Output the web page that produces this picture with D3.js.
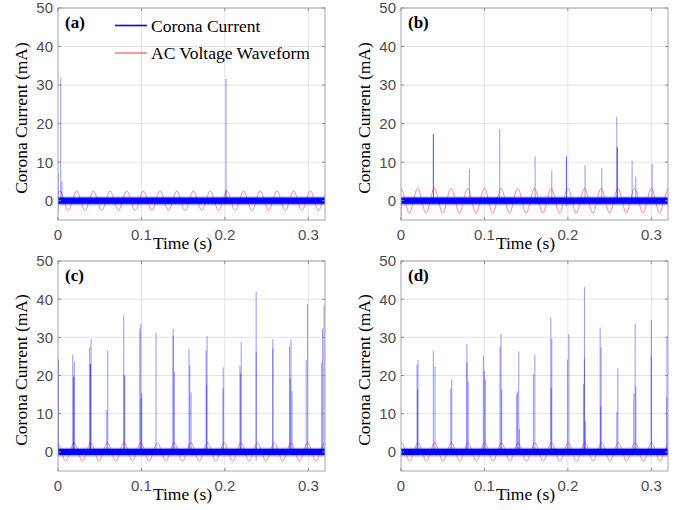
<!DOCTYPE html>
<html>
<head>
<meta charset="utf-8">
<script src="https://cdn.jsdelivr.net/npm/d3@7"></script>
<style>
  body { margin: 0; background: #fff; }
  svg { display: block; }
</style>
</head>
<body>
<script>
// tick labels and panel names
const panelLabels = ["(a)", "(b)", "(c)", "(d)"];
const xTicks = [0, 0.1, 0.2, 0.3];
const yTicks = [0, 10, 20, 30, 40, 50];

// AC voltage trace: knots every quarter period (peak, zero, trough, zero ...)
const acTimes = [0, 0.005, 0.01, 0.015, 0.02, 0.025, 0.03, 0.035, 0.04, 0.045,
  0.05, 0.055, 0.06, 0.065, 0.07, 0.075, 0.08, 0.085, 0.09, 0.095,
  0.1, 0.105, 0.11, 0.115, 0.12, 0.125, 0.13, 0.135, 0.14, 0.145,
  0.15, 0.155, 0.16, 0.165, 0.17, 0.175, 0.18, 0.185, 0.19, 0.195,
  0.2, 0.205, 0.21, 0.215, 0.22, 0.225, 0.23, 0.235, 0.24, 0.245,
  0.25, 0.255, 0.26, 0.265, 0.27, 0.275, 0.28, 0.285, 0.29, 0.295,
  0.3, 0.305, 0.31, 0.315, 0.32, 0.325];
const acKnotShape = [1, 0, -1, 0];
const acAmplitude = [2.5, 3.2, 2.4, 2.4];
const acShift = [0.0024, 0, -0.0008, 0.0004];

// baseline noise band of the corona current (mA)
const noiseBand = [-0.8, 0.8];
const noiseFuzz = [-1.2, 1.1];

// corona current pulses: [time (s), peak (mA)]
const spikesA = [[0.0003, 7], [0.0003, -2.8], [0.0032, 31.8], [0.0048, 5], [0.2014, 31.6], [0.2014, 3]];
const spikesB = [[0.0002, -4], [0.0388, 17.3], [0.0388, 17.3], [0.082, 8.3], [0.1183, 18.6],
  [0.1607, 11.5], [0.1807, 7.9], [0.1983, 11.5], [0.1983, 11.5], [0.1983, -1.5], [0.2206, 9.2],
  [0.2406, 8.5], [0.2586, 21.8], [0.2593, 13.8], [0.2593, 13.8], [0.277, 10.4], [0.2814, 6.3],
  [0.301, 9.6]];
const spikesC = [[0.0004, 24.3], [0.0004, 24.3],
  [0.0176, 25.4], [0.0196, 23.6], [0.0188, 19.7], [0.0188, 19.7],
  [0.038, 27.4], [0.0396, 29.6], [0.0388, 23], [0.0388, 23],
  [0.0584, 11], [0.0596, 26.5],
  [0.0788, 35.7], [0.08, 20], [0.0792, 20],
  [0.098, 32.3], [0.0992, 33.5], [0.1004, 15.4], [0.0995, 14],
  [0.1175, 31.3],
  [0.138, 32.2], [0.138, 30.3], [0.1396, 21],
  [0.157, 27.1], [0.1595, 15.6], [0.158, 22.8],
  [0.1775, 26.7], [0.1787, 30.3], [0.178, 17.6],
  [0.198, 22.2], [0.198, 16.7],
  [0.218, 22.5], [0.2196, 28.7], [0.2188, 20.6],
  [0.2375, 42.1], [0.2375, 26.3], [0.2375, -2.3],
  [0.2575, 29.5], [0.2575, 27],
  [0.2775, 27.6], [0.2792, 29.5], [0.2784, 19.3], [0.2804, 16],
  [0.2975, 24.1], [0.2991, 38.8],
  [0.316, 23.4], [0.3172, 32.2], [0.3188, 38.4]];
const spikesD = [[0.0192, 22.9], [0.0204, 24.1], [0.0198, 16.5],
  [0.0388, 26.5], [0.0408, 22.4],
  [0.0596, 16.7], [0.0608, 19],
  [0.079, 28.3], [0.079, 23.5], [0.0806, 18.4],
  [0.0987, 25.2], [0.0999, 21.3], [0.1011, 19],
  [0.1187, 27.6], [0.1199, 30.9], [0.1207, 16.5],
  [0.1387, 15.2], [0.1395, 15.8], [0.1411, 26.3], [0.1419, 6],
  [0.1587, 20.4], [0.1604, 25.4],
  [0.1795, 35.2], [0.1807, 29.6], [0.18, 16.7],
  [0.1995, 24.2], [0.2012, 30.9],
  [0.2187, 17.8], [0.2199, 43.2], [0.2199, 24.4], [0.2211, 8],
  [0.2387, 32.6], [0.2399, 27.4], [0.2393, 11.9],
  [0.2587, 10.6], [0.2599, 21.9],
  [0.279, 15.4], [0.2806, 33.5], [0.2814, 17.1],
  [0.3, 34.6], [0.3, 25.2],
  [0.3187, 30.2], [0.3187, 14.3]];
const spikeSets = [spikesA, spikesB, spikesC, spikesD];

const legendLabels = ["Corona Current", "AC Voltage Waveform"];
const legendColors = ["#0000ff", "#ff0000"];

// layout of the 4 panels
const panels = [
  {left: 58, top: 8, width: 267, height: 212},
  {left: 401, top: 8, width: 267, height: 212},
  {left: 58, top: 261, width: 267, height: 210},
  {left: 401, top: 261, width: 267, height: 210}
];

const svg = d3.select("body").append("svg")
    .attr("width", 681)
    .attr("height", 510);

const serif = "'Liberation Serif', 'Times New Roman', serif";
const sans = "'Liberation Sans', Arial, Helvetica, sans-serif";

panels.forEach(function(p, i) {
  const g = svg.append("g")
      .attr("transform", "translate(" + p.left + "," + p.top + ")");

  const x = d3.scaleLinear().domain([0, 0.32]).range([0, p.width]);
  const y = d3.scaleLinear().domain([-5, 50]).range([p.height, 0]);

  g.append("clipPath").attr("id", "clip" + i)
    .append("rect").attr("width", p.width).attr("height", p.height);

  // grid
  g.append("g").selectAll("line").data(xTicks.slice(1)).enter().append("line")
      .attr("x1", d => x(d)).attr("x2", d => x(d))
      .attr("y1", 0).attr("y2", p.height)
      .attr("stroke", "#e3e3e3").attr("stroke-width", 1);
  g.append("g").selectAll("line").data(yTicks).enter().append("line")
      .attr("x1", 0).attr("x2", p.width)
      .attr("y1", d => y(d)).attr("y2", d => y(d))
      .attr("stroke", "#e3e3e3").attr("stroke-width", 1);

  const plot = g.append("g").attr("clip-path", "url(#clip" + i + ")");

  // AC voltage waveform
  const acData = acTimes.map(function(t, k) {
    return {t: t + acShift[i] - 0.005, v: acAmplitude[i] * acKnotShape[(k + 3) % 4]};
  });
  const acLine = d3.line()
      .x(d => x(d.t))
      .y(d => y(d.v))
      .curve(d3.curveNatural);
  plot.append("path")
      .datum(acData)
      .attr("fill", "none")
      .attr("stroke", "#ff0000")
      .attr("stroke-opacity", 0.45)
      .attr("stroke-width", 1)
      .attr("d", acLine);

  // corona current: noise band
  plot.append("rect")
      .attr("x", 0).attr("width", p.width)
      .attr("y", y(noiseFuzz[1])).attr("height", y(noiseFuzz[0]) - y(noiseFuzz[1]))
      .attr("fill", "#0000ff").attr("fill-opacity", 0.35);
  plot.append("rect")
      .attr("x", 0).attr("width", p.width)
      .attr("y", y(noiseBand[1])).attr("height", y(noiseBand[0]) - y(noiseBand[1]))
      .attr("fill", "#0000ff");

  // corona current: pulses
  plot.append("g").selectAll("line").data(spikeSets[i]).enter().append("line")
      .attr("x1", d => x(d[0])).attr("x2", d => x(d[0]))
      .attr("y1", y(0)).attr("y2", d => y(d[1]))
      .attr("stroke", "#0000ff")
      .attr("stroke-opacity", 0.38)
      .attr("stroke-width", 1.1);

  // box
  g.append("rect")
      .attr("width", p.width).attr("height", p.height)
      .attr("fill", "none").attr("stroke", "#a6a6a6").attr("stroke-width", 1);

  // inside ticks on all four sides
  const tk = 3;
  xTicks.forEach(function(d) {
    g.append("line").attr("x1", x(d)).attr("x2", x(d)).attr("y1", p.height).attr("y2", p.height - tk)
      .attr("stroke", "#8c8c8c");
    g.append("line").attr("x1", x(d)).attr("x2", x(d)).attr("y1", 0).attr("y2", tk)
      .attr("stroke", "#8c8c8c");
  });
  yTicks.forEach(function(d) {
    g.append("line").attr("x1", 0).attr("x2", tk).attr("y1", y(d)).attr("y2", y(d))
      .attr("stroke", "#8c8c8c");
    g.append("line").attr("x1", p.width).attr("x2", p.width - tk).attr("y1", y(d)).attr("y2", y(d))
      .attr("stroke", "#8c8c8c");
  });

  // tick labels
  g.append("g").selectAll("text").data(xTicks).enter().append("text")
      .attr("x", d => x(d)).attr("y", p.height + 20)
      .attr("text-anchor", "middle")
      .attr("font-family", sans).attr("font-size", 15).attr("fill", "#4d4d4d")
      .text(d => d === 0 ? "0" : d3.format(".1f")(d));
  g.append("g").selectAll("text").data(yTicks).enter().append("text")
      .attr("x", -5).attr("y", d => y(d)).attr("dy", "0.36em")
      .attr("text-anchor", "end")
      .attr("font-family", sans).attr("font-size", 15).attr("fill", "#4d4d4d")
      .text(d => d);

  // axis titles
  g.append("text")
      .attr("x", p.width / 2 - 9).attr("y", p.height + 29)
      .attr("text-anchor", "middle")
      .attr("font-family", serif).attr("font-size", 17.5).attr("fill", "#000")
      .text("Time (s)");
  g.append("text")
      .attr("transform", "translate(-31," + (p.height / 2 + 4) + ") rotate(-90)")
      .attr("text-anchor", "middle")
      .attr("font-family", serif).attr("font-size", 17.5).attr("fill", "#000")
      .text("Corona Current (mA)");

  // panel label
  g.append("text")
      .attr("x", 7).attr("y", 20)
      .attr("font-family", serif).attr("font-size", 17).attr("font-weight", "bold")
      .text(panelLabels[i]);

  // legend in first panel
  if (i === 0) {
    legendLabels.forEach(function(lab, k) {
      const ly = 17.5 + k * 27.5;
      g.append("line")
          .attr("x1", 57).attr("x2", 89).attr("y1", ly).attr("y2", ly)
          .attr("stroke", legendColors[k])
          .attr("stroke-width", k === 0 ? 1.6 : 1)
          .attr("stroke-opacity", k === 0 ? 1 : 0.8);
      g.append("text")
          .attr("x", 93).attr("y", ly + 6)
          .attr("font-family", serif).attr("font-size", 17.5).attr("fill", "#000")
          .text(lab);
    });
  }
});
</script>
</body>
</html>
